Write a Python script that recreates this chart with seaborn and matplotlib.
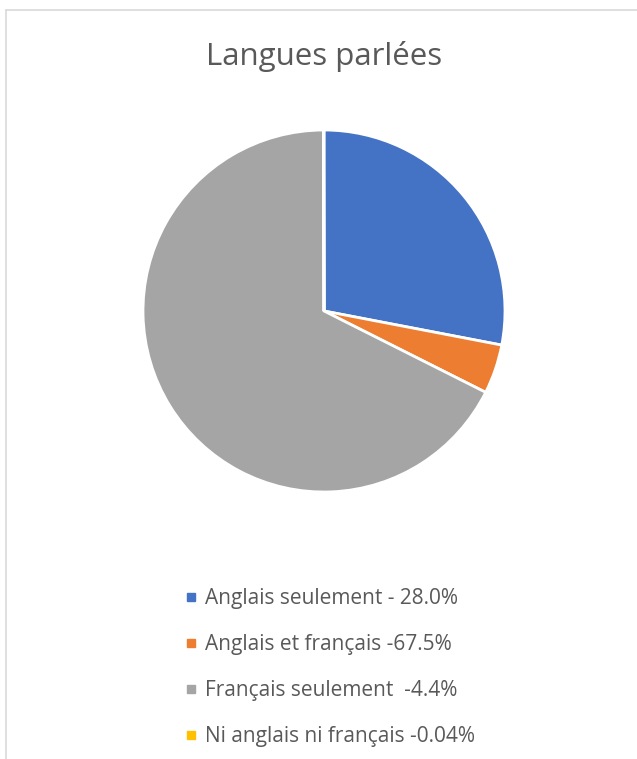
import matplotlib
matplotlib.use("Agg")
import matplotlib.pyplot as plt
from matplotlib.lines import Line2D
import seaborn as sns

# data
categories = ["Anglais seulement", "Anglais et français", "Français seulement", "Ni anglais ni français"]
shares = [28.0, 4.4, 67.5, 0.04]
legend_labels = ["Anglais seulement - 28.0%", "Anglais et français -67.5%",
                 "Français seulement  -4.4%", "Ni anglais ni français -0.04%"]
colors = ["#4472C4", "#ED7D31", "#A5A5A5", "#FFC000"]

sns.set_theme(style="white")
plt.rcParams['font.family'] = ['Open Sans', 'DejaVu Sans']

W, H = 637, 759
fig = plt.figure(figsize=(W / 100, H / 100), dpi=100)
fig.patch.set_facecolor("white")

# pie axes: centre (324, 311), radius ~181 px
r = 181
ax = fig.add_axes([(324 - r) / W, (H - 311 - r) / H, 2 * r / W, 2 * r / H])
wedges, _ = ax.pie(shares, colors=colors, startangle=90, counterclock=False,
                   wedgeprops=dict(edgecolor="white", linewidth=2))
ax.set_aspect("equal")
ax.set_xlim(-1, 1)
ax.set_ylim(-1, 1)
ax.axis("off")

fig.text(324 / W, 1 - 56 / H, "Langues parlées", ha="center", va="center",
         fontsize=22.5, color="#595959")

handles = [Line2D([0], [0], marker="s", linestyle="None", markersize=6,
                  markerfacecolor=c, markeredgecolor=c) for c in colors]
leg = fig.legend(handles, legend_labels, loc="upper left",
                 bbox_to_anchor=(177 / W, 1 - 580 / H), frameon=False,
                 fontsize=15, labelcolor="#595959", handlelength=0.5,
                 handletextpad=0.45, labelspacing=1.2, borderaxespad=0)

# chart border (only top and left visible in the crop)
fig.add_artist(Line2D([6 / W, 1], [1 - 10 / H, 1 - 10 / H], color="#D9D9D9",
                      linewidth=1.2, transform=fig.transFigure))
fig.add_artist(Line2D([6 / W, 6 / W], [0, 1 - 10 / H], color="#D9D9D9",
                      linewidth=1.2, transform=fig.transFigure))

fig.savefig("out.png", dpi=100, facecolor="white")
